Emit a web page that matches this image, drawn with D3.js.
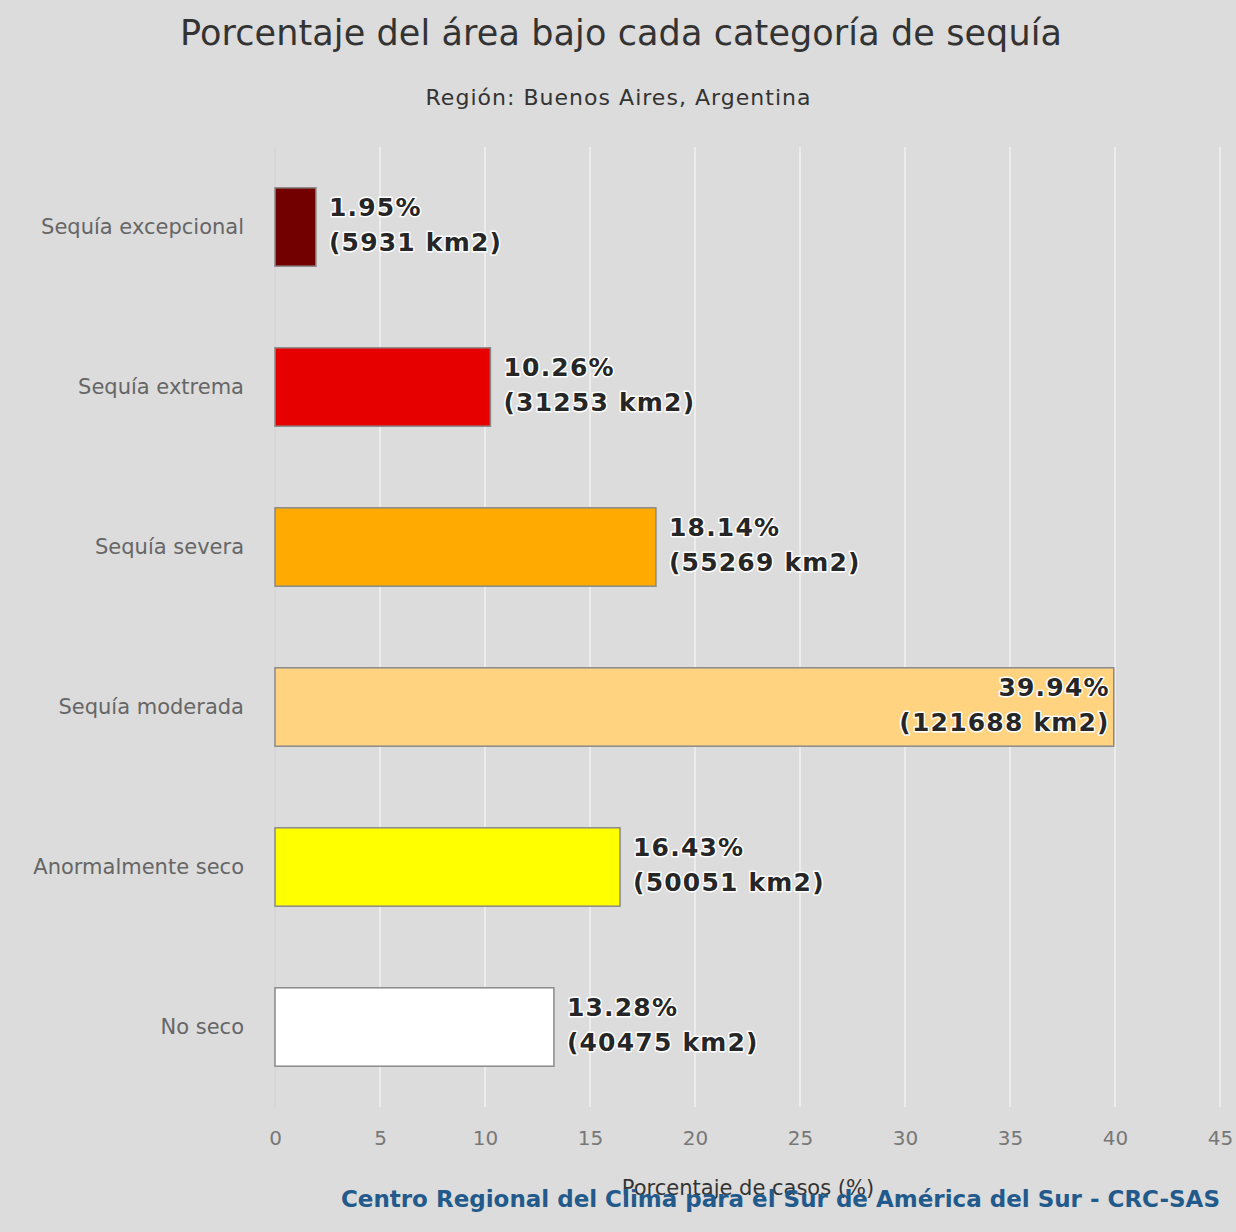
<!DOCTYPE html>
<html>
<head>
  <meta charset="utf-8">
  <script src="https://cdn.jsdelivr.net/npm/d3@7/dist/d3.min.js"></script>
  <style>
    body { margin: 0; background: #dcdcdc; }
    text { font-family: "DejaVu Sans", sans-serif; }
  </style>
</head>
<body>
<div id="viz"></div>
<script>
var categories = ["Sequía excepcional", "Sequía extrema", "Sequía severa",
                  "Sequía moderada", "Anormalmente seco", "No seco"];
var percents = [1.95, 10.26, 18.14, 39.94, 16.43, 13.28];
var areas = [5931, 31253, 55269, 121688, 50051, 40475];
var colors = ["#730000", "#e60000", "#ffaa00", "#ffd37f", "#ffff00", "#ffffff"];
var ticks = [0, 5, 10, 15, 20, 25, 30, 35, 40, 45];

var W = 1236, H = 1232;
var margin = {left: 275, right: 16, top: 147, bottom: 125};

var svg = d3.select("#viz").append("svg")
  .attr("width", W).attr("height", H);

svg.append("rect").attr("width", W).attr("height", H).attr("fill", "#dcdcdc");

var x = d3.scaleLinear().domain([0, 45]).range([margin.left, 1220]);
var y = d3.scaleBand().domain(categories)
  .range([margin.top, H - margin.bottom]).paddingInner(0.51).paddingOuter(0.255);

// grid
svg.append("g").selectAll("line").data(ticks).enter().append("line")
  .attr("x1", function(d){ return x(d); }).attr("x2", function(d){ return x(d); })
  .attr("y1", margin.top).attr("y2", H - margin.bottom)
  .attr("stroke", function(d){ return d === 0 ? "#d6d6d6" : "#f0f0f0"; })
  .attr("stroke-width", 1.6);

// titles
svg.append("text").attr("x", W / 2 + 3).attr("y", 45).attr("text-anchor", "middle")
  .attr("font-size", 35).attr("fill", "#333").attr("textLength", 882)
  .text("Porcentaje del área bajo cada categoría de sequía");
svg.append("text").attr("x", W / 2).attr("y", 105).attr("text-anchor", "middle")
  .attr("font-size", 22).attr("fill", "#333").attr("textLength", 385)
  .text("Región: Buenos Aires, Argentina");

// bars
var rows = categories.map(function(c, i){
  return {cat: c, pct: percents[i], km: areas[i], col: colors[i]};
});

svg.append("g").selectAll("rect").data(rows).enter().append("rect")
  .attr("x", x(0))
  .attr("y", function(d){ return y(d.cat); })
  .attr("width", function(d){ return x(d.pct) - x(0); })
  .attr("height", y.bandwidth())
  .attr("fill", function(d){ return d.col; })
  .attr("stroke", "#8a8a8a").attr("stroke-width", 1.5);

// data labels
function labX(d){ return x(d.pct) > 1000 ? x(d.pct) - 4 : x(d.pct) + 13; }
var lab = svg.append("g").selectAll("text").data(rows).enter().append("text")
  .attr("font-size", 25).attr("font-weight", "bold").attr("fill", "#262626")
  .attr("letter-spacing", 1.2)
  .attr("stroke", "#ffffff").attr("stroke-width", 3).attr("paint-order", "stroke")
  .attr("stroke-linejoin", "round")
  .attr("text-anchor", function(d){ return x(d.pct) > 1000 ? "end" : "start"; })
  .attr("y", function(d){ return y(d.cat) + y.bandwidth() / 2; });
lab.append("tspan").attr("x", labX).attr("dy", -11)
  .text(function(d){ return d.pct.toFixed(2) + "%"; });
lab.append("tspan").attr("x", labX).attr("dy", 35)
  .text(function(d){ return "(" + d.km + " km2)"; });

// y axis labels
svg.append("g").selectAll("text").data(categories).enter().append("text")
  .attr("x", 244).attr("y", function(d){ return y(d) + y.bandwidth() / 2 + 7; })
  .attr("text-anchor", "end").attr("font-size", 21).attr("fill", "#666")
  .text(function(d){ return d; });

// x axis
var xAxis = d3.axisBottom(x).tickValues(ticks).tickSize(0).tickPadding(0);
var gx = svg.append("g").attr("transform", "translate(0," + (H - margin.bottom + 24) + ")")
  .call(xAxis);
gx.select(".domain").remove();
gx.selectAll("text").attr("font-size", 20).attr("fill", "#777")
  .attr("font-family", "DejaVu Sans Condensed, sans-serif");

svg.append("text").attr("x", 748).attr("y", 1195).attr("text-anchor", "middle")
  .attr("font-size", 21).attr("fill", "#333")
  .attr("font-family", "DejaVu Sans Condensed, sans-serif")
  .text("Porcentaje de casos (%)");

svg.append("text").attr("x", 1220).attr("y", 1207).attr("text-anchor", "end")
  .attr("font-size", 23).attr("font-weight", "bold").attr("fill", "#235a8c")
  .attr("font-family", "DejaVu Sans Condensed, sans-serif")
  .text("Centro Regional del Clima para el Sur de América del Sur - CRC-SAS");
</script>
</body>
</html>
